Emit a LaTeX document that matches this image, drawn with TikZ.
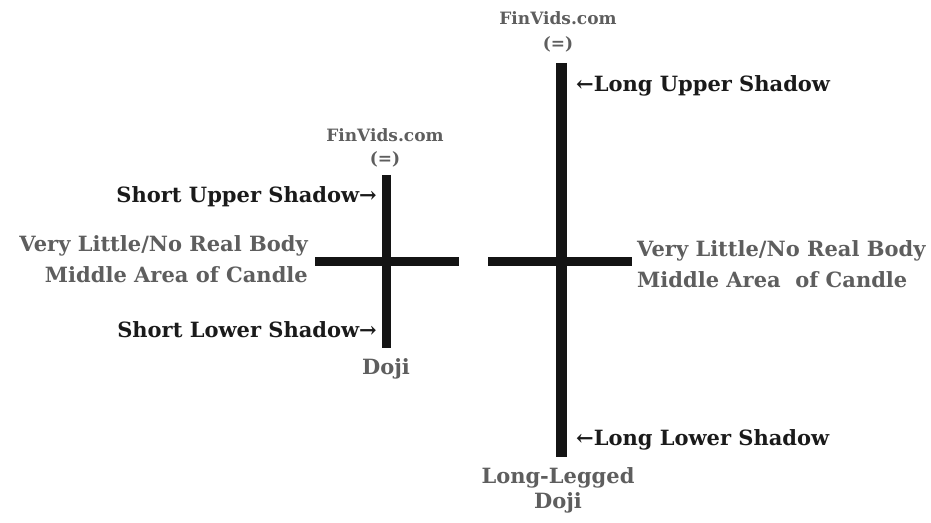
\documentclass[tikz,border=0pt]{standalone}
\usepackage{fontspec}
\setmainfont{DejaVu Serif}
\usepackage{xcolor}
\usetikzlibrary{positioning}
\definecolor{lblgray}{HTML}{5E5E5E}
\definecolor{lblblack}{HTML}{1A1A1A}

\begin{document}
\begin{tikzpicture}[x=1pt,y=1pt,
  lbl/.style={inner sep=0pt,font=\fontsize{21}{25}\selectfont\bfseries,text=#1},
  lbl/.default=lblblack,
  brand/.style={inner sep=0pt,font=\fontsize{17}{20}\selectfont\bfseries,text=lblgray},
  bar/.style={line width=#1,draw=black!92},
  bar/.default=9pt]
\useasboundingbox (0,0) rectangle (931,522);
% Doji
\coordinate (dtop) at (386,347); \coordinate (dbot) at (386,174);
\coordinate (dleft) at (315,260); \coordinate (dright) at (459,260);
\draw[bar] (dtop) -- (dbot);
\draw[bar] (dleft) -- (dright);
\node[brand,anchor=base] (dbrand) at (385,380) {FinVids.com};
\node[brand,anchor=base] (dsign) at ([yshift=-23pt]dbrand.base) {(=)};
\node[lbl,anchor=base east] (dup) at (377,319) {Short Upper Shadow→};
\node[lbl=lblgray,anchor=base east] (dbody) at (308,270) {Very Little/No Real Body};
\node[lbl=lblgray,anchor=base east] (dmid) at ([yshift=-31pt]dbody.base east) {Middle Area of Candle};
\node[lbl,anchor=base east] (dlow) at (377,184) {Short Lower Shadow→};
\node[lbl=lblgray,anchor=base] (dname) at (386,147) {Doji};
% Long-legged doji
\coordinate (ltop) at (561,459); \coordinate (lbot) at (561,65);
\coordinate (lleft) at (488,260); \coordinate (lright) at (632,260);
\draw[bar=11pt] (ltop) -- (lbot);
\draw[bar] (lleft) -- (lright);
\node[brand,anchor=base] (lbrand) at (558,497) {FinVids.com};
\node[brand,anchor=base] (lsign) at ([yshift=-25pt]lbrand.base) {(=)};
\node[lbl,anchor=base west] (lup) at (576,430) {←Long Upper Shadow};
\node[lbl=lblgray,anchor=base west] (lbody) at (637,265) {Very Little/No Real Body};
\node[lbl=lblgray,anchor=base west] (lmid) at ([yshift=-31pt]lbody.base west) {Middle Area\ \ of Candle};
\node[lbl,anchor=base west] (llow) at (576,77) {←Long Lower Shadow};
\node[lbl=lblgray,anchor=base] (lname) at (558,39) {Long-Legged};
\node[lbl=lblgray,anchor=base] (lname2) at ([yshift=-25pt]lname.base) {Doji};
\end{tikzpicture}
\end{document}
